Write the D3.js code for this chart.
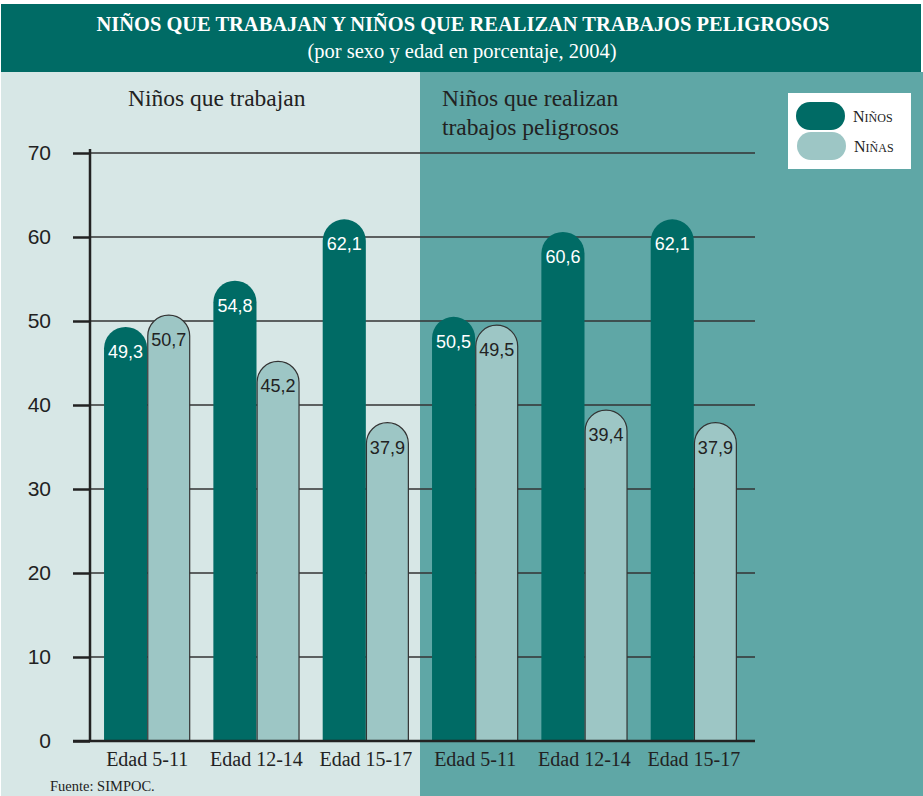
<!DOCTYPE html>
<html>
<head>
<meta charset="utf-8">
<script src="https://cdn.jsdelivr.net/npm/d3@7"></script>
<style>
  body { margin: 0; background: #fff; }
  svg { display: block; }
</style>
</head>
<body>
<div id="chart"></div>
<script>
// ---- data ----
const groups = ["Niños que trabajan", "Niños que realizan trabajos peligrosos"];
const ageLabels = ["Edad 5-11", "Edad 12-14", "Edad 15-17", "Edad 5-11", "Edad 12-14", "Edad 15-17"];
const ninos = [49.3, 54.8, 62.1, 50.5, 60.6, 62.1];
const ninas = [50.7, 45.2, 37.9, 49.5, 39.4, 37.9];
const yTicks = [0, 10, 20, 30, 40, 50, 60, 70];
const series = ["Niños", "Niñas"];

const W = 923, H = 796;
const dark = "#006b65", light = "#9dc6c5";
const bgLeft = "#d7e7e6", bgRight = "#5fa7a6";
const serif = "'Liberation Serif', 'Times New Roman', serif";
const sans = "'Liberation Sans', Arial, sans-serif";

const svg = d3.select("#chart").append("svg").attr("width", W).attr("height", H);

// backgrounds
svg.append("rect").attr("x", 1).attr("y", 72).attr("width", 420).attr("height", H - 72).attr("fill", bgLeft);
svg.append("rect").attr("x", 420).attr("y", 72).attr("width", W - 420).attr("height", H - 72).attr("fill", bgRight);

// title band
svg.append("rect").attr("x", 1).attr("y", 4).attr("width", 920).attr("height", 68).attr("fill", dark);
svg.append("text").attr("x", 463).attr("y", 31).attr("text-anchor", "middle")
  .style("font-family", serif).style("font-size", "20.5px").style("font-weight", 700).attr("fill", "#fff")
  .attr("textLength", 733).attr("lengthAdjust", "spacingAndGlyphs")
  .text("NIÑOS QUE TRABAJAN Y NIÑOS QUE REALIZAN TRABAJOS PELIGROSOS");
svg.append("text").attr("x", 462).attr("y", 58).attr("text-anchor", "middle")
  .style("font-family", serif).style("font-size", "20.5px").attr("fill", "#fff")
  .text("(por sexo y edad en porcentaje, 2004)");

// ---- scales ----
const y = d3.scaleLinear().domain([0, 70]).range([741, 153]);
const x = d3.scaleBand().domain(d3.range(ageLabels.length))
  .range([92.5, 748.5]).paddingInner(0.211).paddingOuter(0.1055);
const sub = d3.scaleBand().domain(series).range([0, x.bandwidth()]).paddingInner(0.0);

// gridlines
svg.append("g").selectAll("line").data(yTicks.filter(d => d > 0)).join("line")
  .attr("x1", 90).attr("x2", 755)
  .attr("y1", d => y(d)).attr("y2", d => y(d))
  .attr("stroke", "#333").attr("stroke-width", 1.3);

// y axis
const yAxis = svg.append("g").attr("transform", "translate(90,0)")
  .call(d3.axisLeft(y).tickValues(yTicks).tickSize(17).tickPadding(22).tickFormat(d3.format("d")));
yAxis.select(".domain").remove();
yAxis.selectAll(".tick line").attr("stroke", "#222").attr("stroke-width", 2.5);
yAxis.selectAll(".tick text").attr("fill", "#222")
  .style("font-family", sans).style("font-size", "21px");
svg.append("line").attr("x1", 90).attr("x2", 90).attr("y1", 149).attr("y2", 741)
  .attr("stroke", "#222").attr("stroke-width", 2.5);

// rounded-top bar path
function pill(x0, w, yTop, yBase) {
  const r = w / 2;
  return `M${x0},${yBase} L${x0},${yTop + r} A${r},${r} 0 0 1 ${x0 + w},${yTop + r} L${x0 + w},${yBase}`;
}

const rows = ageLabels.map((a, i) => ({ i, vals: [ninos[i], ninas[i]] }));
const barG = svg.append("g").selectAll("g").data(rows).join("g")
  .attr("transform", d => `translate(${x(d.i)},0)`);

barG.selectAll("path").data(d => d.vals.map((v, k) => ({ v, s: series[k] }))).join("path")
  .attr("d", d => d.s === "Niños"
    ? pill(sub(d.s), sub.bandwidth(), y(d.v), y(0)) + " Z"
    : pill(sub(d.s) + 0.6, sub.bandwidth() - 1.2, y(d.v), y(0)))
  .attr("fill", d => d.s === "Niños" ? dark : light)
  .attr("stroke", d => d.s === "Niños" ? "none" : "#333")
  .attr("stroke-width", 1.2);

barG.selectAll("text").data(d => d.vals.map((v, k) => ({ v, s: series[k] }))).join("text")
  .attr("x", d => sub(d.s) + sub.bandwidth() / 2)
  .attr("y", d => y(d.v) + 31)
  .attr("text-anchor", "middle")
  .attr("fill", d => d.s === "Niños" ? "#fff" : "#222")
  .style("font-family", sans).style("font-size", "18px")
  .text(d => d3.format(".1f")(d.v).replace(".", ","));

// x baseline
svg.append("line").attr("x1", 73).attr("x2", 755).attr("y1", 741).attr("y2", 741)
  .attr("stroke", "#222").attr("stroke-width", 2.5);

// category labels
svg.append("g").selectAll("text").data(ageLabels).join("text")
  .attr("x", (d, i) => x(i) + x.bandwidth() / 2)
  .attr("y", 766).attr("text-anchor", "middle").attr("fill", "#222")
  .style("font-family", serif).style("font-size", "20px")
  .text(d => d);

// panel titles
svg.append("text").attr("x", 128).attr("y", 106).attr("fill", "#222")
  .style("font-family", serif).style("font-size", "23.5px").text(groups[0]);
svg.append("text").attr("y", 106).attr("fill", "#222")
  .style("font-family", serif).style("font-size", "23.5px")
  .selectAll("tspan").data(["Niños que realizan", "trabajos peligrosos"]).join("tspan")
  .attr("x", 442).attr("dy", (d, i) => i ? 29 : 0).text(d => d);

// legend
const leg = svg.append("g");
leg.append("rect").attr("x", 788).attr("y", 93).attr("width", 123).attr("height", 76).attr("fill", "#fff");
const legItems = leg.selectAll("g").data(series).join("g")
  .attr("transform", (d, i) => `translate(${796 + i},${102 + i * 30})`);
legItems.append("rect").attr("width", 49).attr("height", 28).attr("rx", 14)
  .attr("fill", d => d === "Niños" ? dark : light);
const legText = legItems.append("text").attr("x", 57).attr("y", 20).attr("fill", "#222")
  .style("font-family", serif);
legText.append("tspan").style("font-size", "16px").text(d => d[0]);
legText.append("tspan").style("font-size", "12px").text(d => d.slice(1).toUpperCase());

// source
svg.append("text").attr("x", 50).attr("y", 791).attr("fill", "#222")
  .style("font-family", serif).style("font-size", "14.5px").text("Fuente: SIMPOC.");
</script>
</body>
</html>
